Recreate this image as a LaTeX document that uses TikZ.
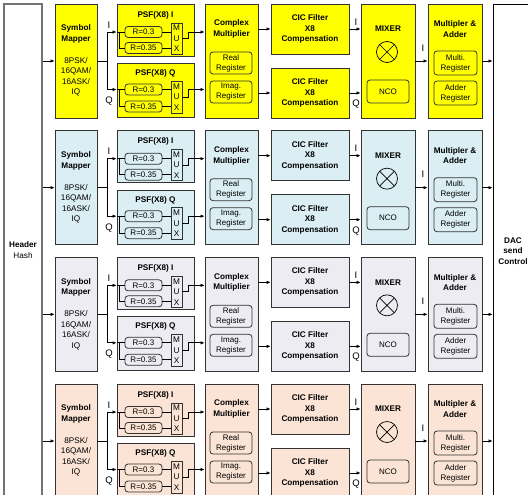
\documentclass[tikz,border=0pt]{standalone}
\usepackage{fontspec}
\setmainfont{Liberation Sans}
\usetikzlibrary{arrows.meta}
\definecolor{rowA}{HTML}{FFFF00}
\definecolor{rowB}{HTML}{DAEEF3}
\definecolor{rowC}{HTML}{EDECF2}
\definecolor{rowD}{HTML}{FBE4D5}
\definecolor{edge}{HTML}{333333}
\begin{document}
\begin{tikzpicture}[x=1pt, y=-1pt,
  blk/.style={rectangle, draw=edge, line width=0.8pt, inner sep=0pt},
  reg/.style={rectangle, rounded corners=3pt, draw=edge, line width=0.8pt, inner sep=0pt, align=center, font=\fontsize{8}{10}\selectfont},
  ttl/.style={inner sep=0pt, align=center, font=\fontsize{8.2}{10.5}\selectfont\bfseries},
  txt/.style={inner sep=0pt, align=center, font=\fontsize{8.2}{10.5}\selectfont},
  lbl/.style={inner sep=0pt, font=\fontsize{9.5}{11}\selectfont},
  wire/.style={line width=0.7pt},
  arr/.style={wire, -{Latex[length=4pt, width=3.4pt]}},
]
  \useasboundingbox (0,0) rectangle (528,495);
  \clip (0,0) rectangle (528,495);

  % side blocks
  \node[rectangle, draw=black!55, line width=1.1pt, minimum width=38, minimum height=520] (hdr) at (23, 264) {};
  \node[ttl] (hdrt) at (23, 245) {Header};
  \node[txt] (hdrs) at (23, 255.5) {Hash};
  \node[blk, draw=black, minimum width=67, minimum height=520] (dac) at (526.5, 264) {};
  \node[ttl] (dact) at (513, 251) {DAC\\send\\Control};

  % one channel per row
  \foreach \r/\col in {0/rowA, 1/rowB, 2/rowC, 3/rowD} {
    \pgfmathsetmacro\rtop{4+126.67*\r}
    \begin{scope}[blk/.append style={fill=\col}, reg/.append style={fill=\col}]
      % symbol mapper
      \node[blk, minimum width=42, minimum height=114] (map\r) at (76, \rtop+57) {};
      \node[ttl] (mapt\r) at (76, \rtop+30) {Symbol\\Mapper};
      \node[txt] (mapm\r) at (76, \rtop+73) {8PSK/\\16QAM/\\16ASK/\\IQ};

      % pulse shaping filters
      \node[blk, minimum width=77, minimum height=52] (psfi\r) at (155.5, \rtop+26) {};
      \node[ttl] (psfit\r) at (155.5, \rtop+11) {PSF(X8) I};
      \node[reg, minimum width=37, minimum height=11] (rai\r) at (143.5, \rtop+28) {R=0.3};
      \node[reg, minimum width=37, minimum height=11] (rbi\r) at (143.5, \rtop+44) {R=0.35};
      \node[blk, txt, minimum width=11, minimum height=31] (muxi\r) at (176.5, \rtop+34.5) {M\\U\\X};

      \node[blk, minimum width=77, minimum height=54] (psfq\r) at (155.5, \rtop+86.5) {};
      \node[ttl] (psfqt\r) at (155.5, \rtop+69.5) {PSF(X8) Q};
      \node[reg, minimum width=37, minimum height=11] (raq\r) at (143.5, \rtop+85.5) {R=0.3};
      \node[reg, minimum width=37, minimum height=11] (rbq\r) at (143.5, \rtop+102.5) {R=0.35};
      \node[blk, txt, minimum width=11, minimum height=32] (muxq\r) at (176.5, \rtop+93) {M\\U\\X};

      % complex multiplier
      \node[blk, minimum width=53, minimum height=114] (cm\r) at (231.5, \rtop+57) {};
      \node[ttl] (cmt\r) at (231.5, \rtop+25) {Complex\\Multiplier};
      \node[reg, minimum width=42, minimum height=22] (real\r) at (231, \rtop+59) {Real\\Register};
      \node[reg, minimum width=42, minimum height=22] (imag\r) at (231, \rtop+88) {Imag.\\Register};

      % CIC filters
      \node[blk, ttl, minimum width=78, minimum height=50] (cici\r) at (310, \rtop+25) {CIC Filter\\X8\\Compensation};
      \node[blk, ttl, minimum width=78, minimum height=50] (cicq\r) at (310, \rtop+89) {CIC Filter\\X8\\Compensation};

      % mixer
      \node[blk, minimum width=54, minimum height=114] (mix\r) at (388, \rtop+57) {};
      \node[ttl] (mixt\r) at (388, \rtop+25) {MIXER};
      \node[circle, draw=black, line width=0.7pt, minimum size=21, inner sep=0pt,
        path picture={\draw[line width=0.7pt] (path picture bounding box.north west) -- (path picture bounding box.south east)
          (path picture bounding box.north east) -- (path picture bounding box.south west);}] (mul\r) at (387, \rtop+48) {};
      \node[reg, minimum width=42, minimum height=23] (nco\r) at (388, \rtop+87.5) {NCO};

      % multiplier and adder
      \node[blk, minimum width=54, minimum height=114] (madd\r) at (455, \rtop+57) {};
      \node[ttl] (maddt\r) at (455, \rtop+25) {Multipler \&\\Adder};
      \node[reg, minimum width=43, minimum height=24] (multr\r) at (455.5, \rtop+59) {Multi.\\Register};
      \node[reg, minimum width=43, minimum height=24] (addr\r) at (455.5, \rtop+89) {Adder\\Register};
    \end{scope}

    % labels
    \node[lbl] (li\r) at (109, \rtop+21) {I};
    \node[lbl] (lq\r) at (109, \rtop+97) {Q};
    \node[lbl] (lci\r) at (356, \rtop+18) {I};
    \node[lbl] (lcq\r) at (356, \rtop+100) {Q};
    \node[lbl] (lmi\r) at (423, \rtop+44) {I};

    % connectors
    \coordinate (sp\r) at (107, \rtop+57);
    \draw[arr] (hdr.east |- map\r) -- (map\r);
    \draw[wire] (map\r) -- (sp\r);
    \draw[arr] (sp\r) |- (psfi\r.west |- rai\r);
    \draw[arr] (sp\r) |- (psfq\r.west |- raq\r);
    \draw[wire] (psfi\r.west |- rai\r) -- (rai\r);
    \draw[wire] (psfq\r.west |- raq\r) -- (raq\r);
    \draw[wire] ([xshift=3pt]psfi\r.west |- rai\r) |- (rbi\r);
    \draw[wire] ([xshift=3pt]psfq\r.west |- raq\r) |- (rbq\r);
    \draw[wire] (rai\r) -- (muxi\r.west |- rai\r);
    \draw[wire] (rbi\r) -- (muxi\r.west |- rbi\r);
    \draw[wire] (raq\r) -- (muxq\r.west |- raq\r);
    \draw[wire] (rbq\r) -- (muxq\r.west |- rbq\r);
    \draw[arr] (muxi\r.east) -- ++(6,0) |- (cm\r.west |- rai\r);
    \draw[arr] (muxq\r.east) -- ++(6,0) |- (cm\r.west |- raq\r);
    \draw[arr] (cm\r.east |- cici\r) -- (cici\r);
    \draw[arr] (cm\r.east |- cicq\r) -- (cicq\r);
    \draw[arr] (cici\r) -- (mix\r.west |- cici\r);
    \draw[arr] (cicq\r) -- (mix\r.west |- cicq\r);
    \draw[arr] (mix\r) -- (madd\r);
    \draw[arr] (madd\r) -- (dac.west |- madd\r);
  }
\end{tikzpicture}
\end{document}
